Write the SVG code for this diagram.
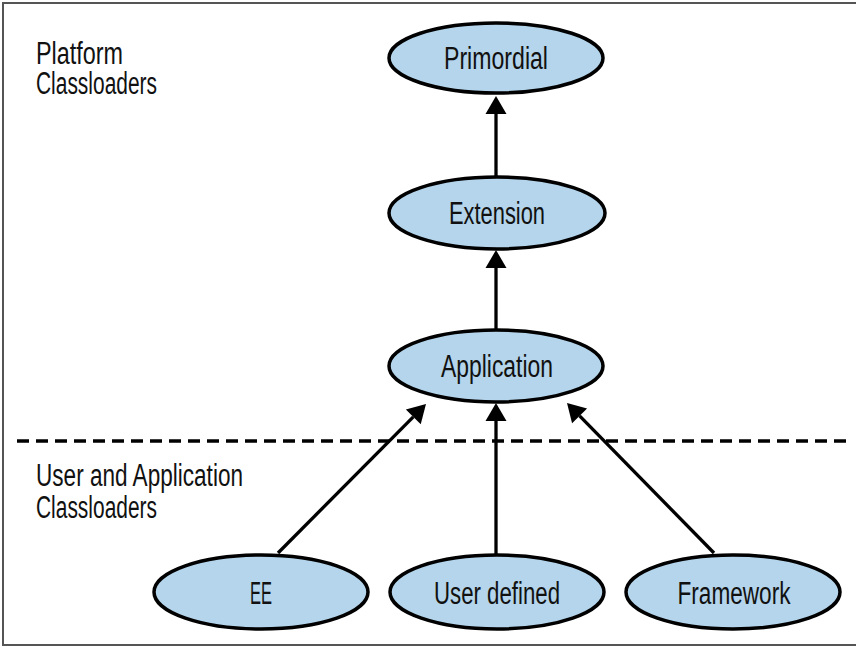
<svg xmlns="http://www.w3.org/2000/svg" width="856" height="646" viewBox="0 0 856 646">
<style>
.node{fill:#b4d5eb;stroke:#000;stroke-width:3.5}
.lbl{font-family:"Liberation Sans Narrow","Liberation Sans",Arial,sans-serif;font-size:31px;fill:#111;text-anchor:middle}
.side{font-family:"Liberation Sans Narrow","Liberation Sans",Arial,sans-serif;font-size:31px;fill:#111}
.edge{stroke:#000;stroke-width:3.3;fill:none}
</style>
<defs>
<marker id="ah" markerUnits="userSpaceOnUse" markerWidth="18" markerHeight="21" refX="0" refY="10.5" orient="auto" overflow="visible">
<path d="M0,0 L18,10.5 L0,21 z" fill="#000"/>
</marker>
</defs>
<rect x="3" y="3" width="870" height="642" fill="#fff" stroke="#555" stroke-width="2"/>
<g id="labels">
<text class="side" x="36" y="64" textLength="87" lengthAdjust="spacingAndGlyphs">Platform</text>
<text class="side" x="36" y="94" textLength="121" lengthAdjust="spacingAndGlyphs">Classloaders</text>
<text class="side" x="36" y="486" textLength="207" lengthAdjust="spacingAndGlyphs">User and Application</text>
<text class="side" x="36" y="518" textLength="121" lengthAdjust="spacingAndGlyphs">Classloaders</text>
</g>
<g id="divider">
<line x1="17" y1="441" x2="846" y2="441" stroke="#000" stroke-width="3.5" stroke-dasharray="12,7"/>
</g>
<g id="connectors">
<line class="edge" x1="496" y1="177" x2="496" y2="114" marker-end="url(#ah)"/>
<line class="edge" x1="496" y1="330" x2="496" y2="268" marker-end="url(#ah)"/>
<line class="edge" x1="496" y1="556" x2="496" y2="421" marker-end="url(#ah)"/>
<line class="edge" x1="278" y1="553" x2="413.3" y2="416.8" marker-end="url(#ah)"/>
<line class="edge" x1="714" y1="553" x2="579.6" y2="415.9" marker-end="url(#ah)"/>
</g>
<g id="primordial">
<ellipse class="node" cx="496" cy="58" rx="107" ry="35"/>
<text class="lbl" x="496" y="69" textLength="104" lengthAdjust="spacingAndGlyphs">Primordial</text>
</g>
<g id="extension">
<ellipse class="node" cx="497" cy="213" rx="108" ry="36"/>
<text class="lbl" x="497" y="224" textLength="96" lengthAdjust="spacingAndGlyphs">Extension</text>
</g>
<g id="application">
<ellipse class="node" cx="496" cy="366" rx="107" ry="36"/>
<text class="lbl" x="497" y="377" textLength="112" lengthAdjust="spacingAndGlyphs">Application</text>
</g>
<g id="ee">
<ellipse class="node" cx="261" cy="592" rx="107" ry="37"/>
<text class="lbl" x="261" y="604" textLength="22" lengthAdjust="spacingAndGlyphs">EE</text>
</g>
<g id="userdefined">
<ellipse class="node" cx="497" cy="592" rx="107" ry="37"/>
<text class="lbl" x="497" y="604" textLength="126" lengthAdjust="spacingAndGlyphs">User defined</text>
</g>
<g id="framework">
<ellipse class="node" cx="733" cy="592" rx="107" ry="37"/>
<text class="lbl" x="734" y="604" textLength="113" lengthAdjust="spacingAndGlyphs">Framework</text>
</g>
</svg>
